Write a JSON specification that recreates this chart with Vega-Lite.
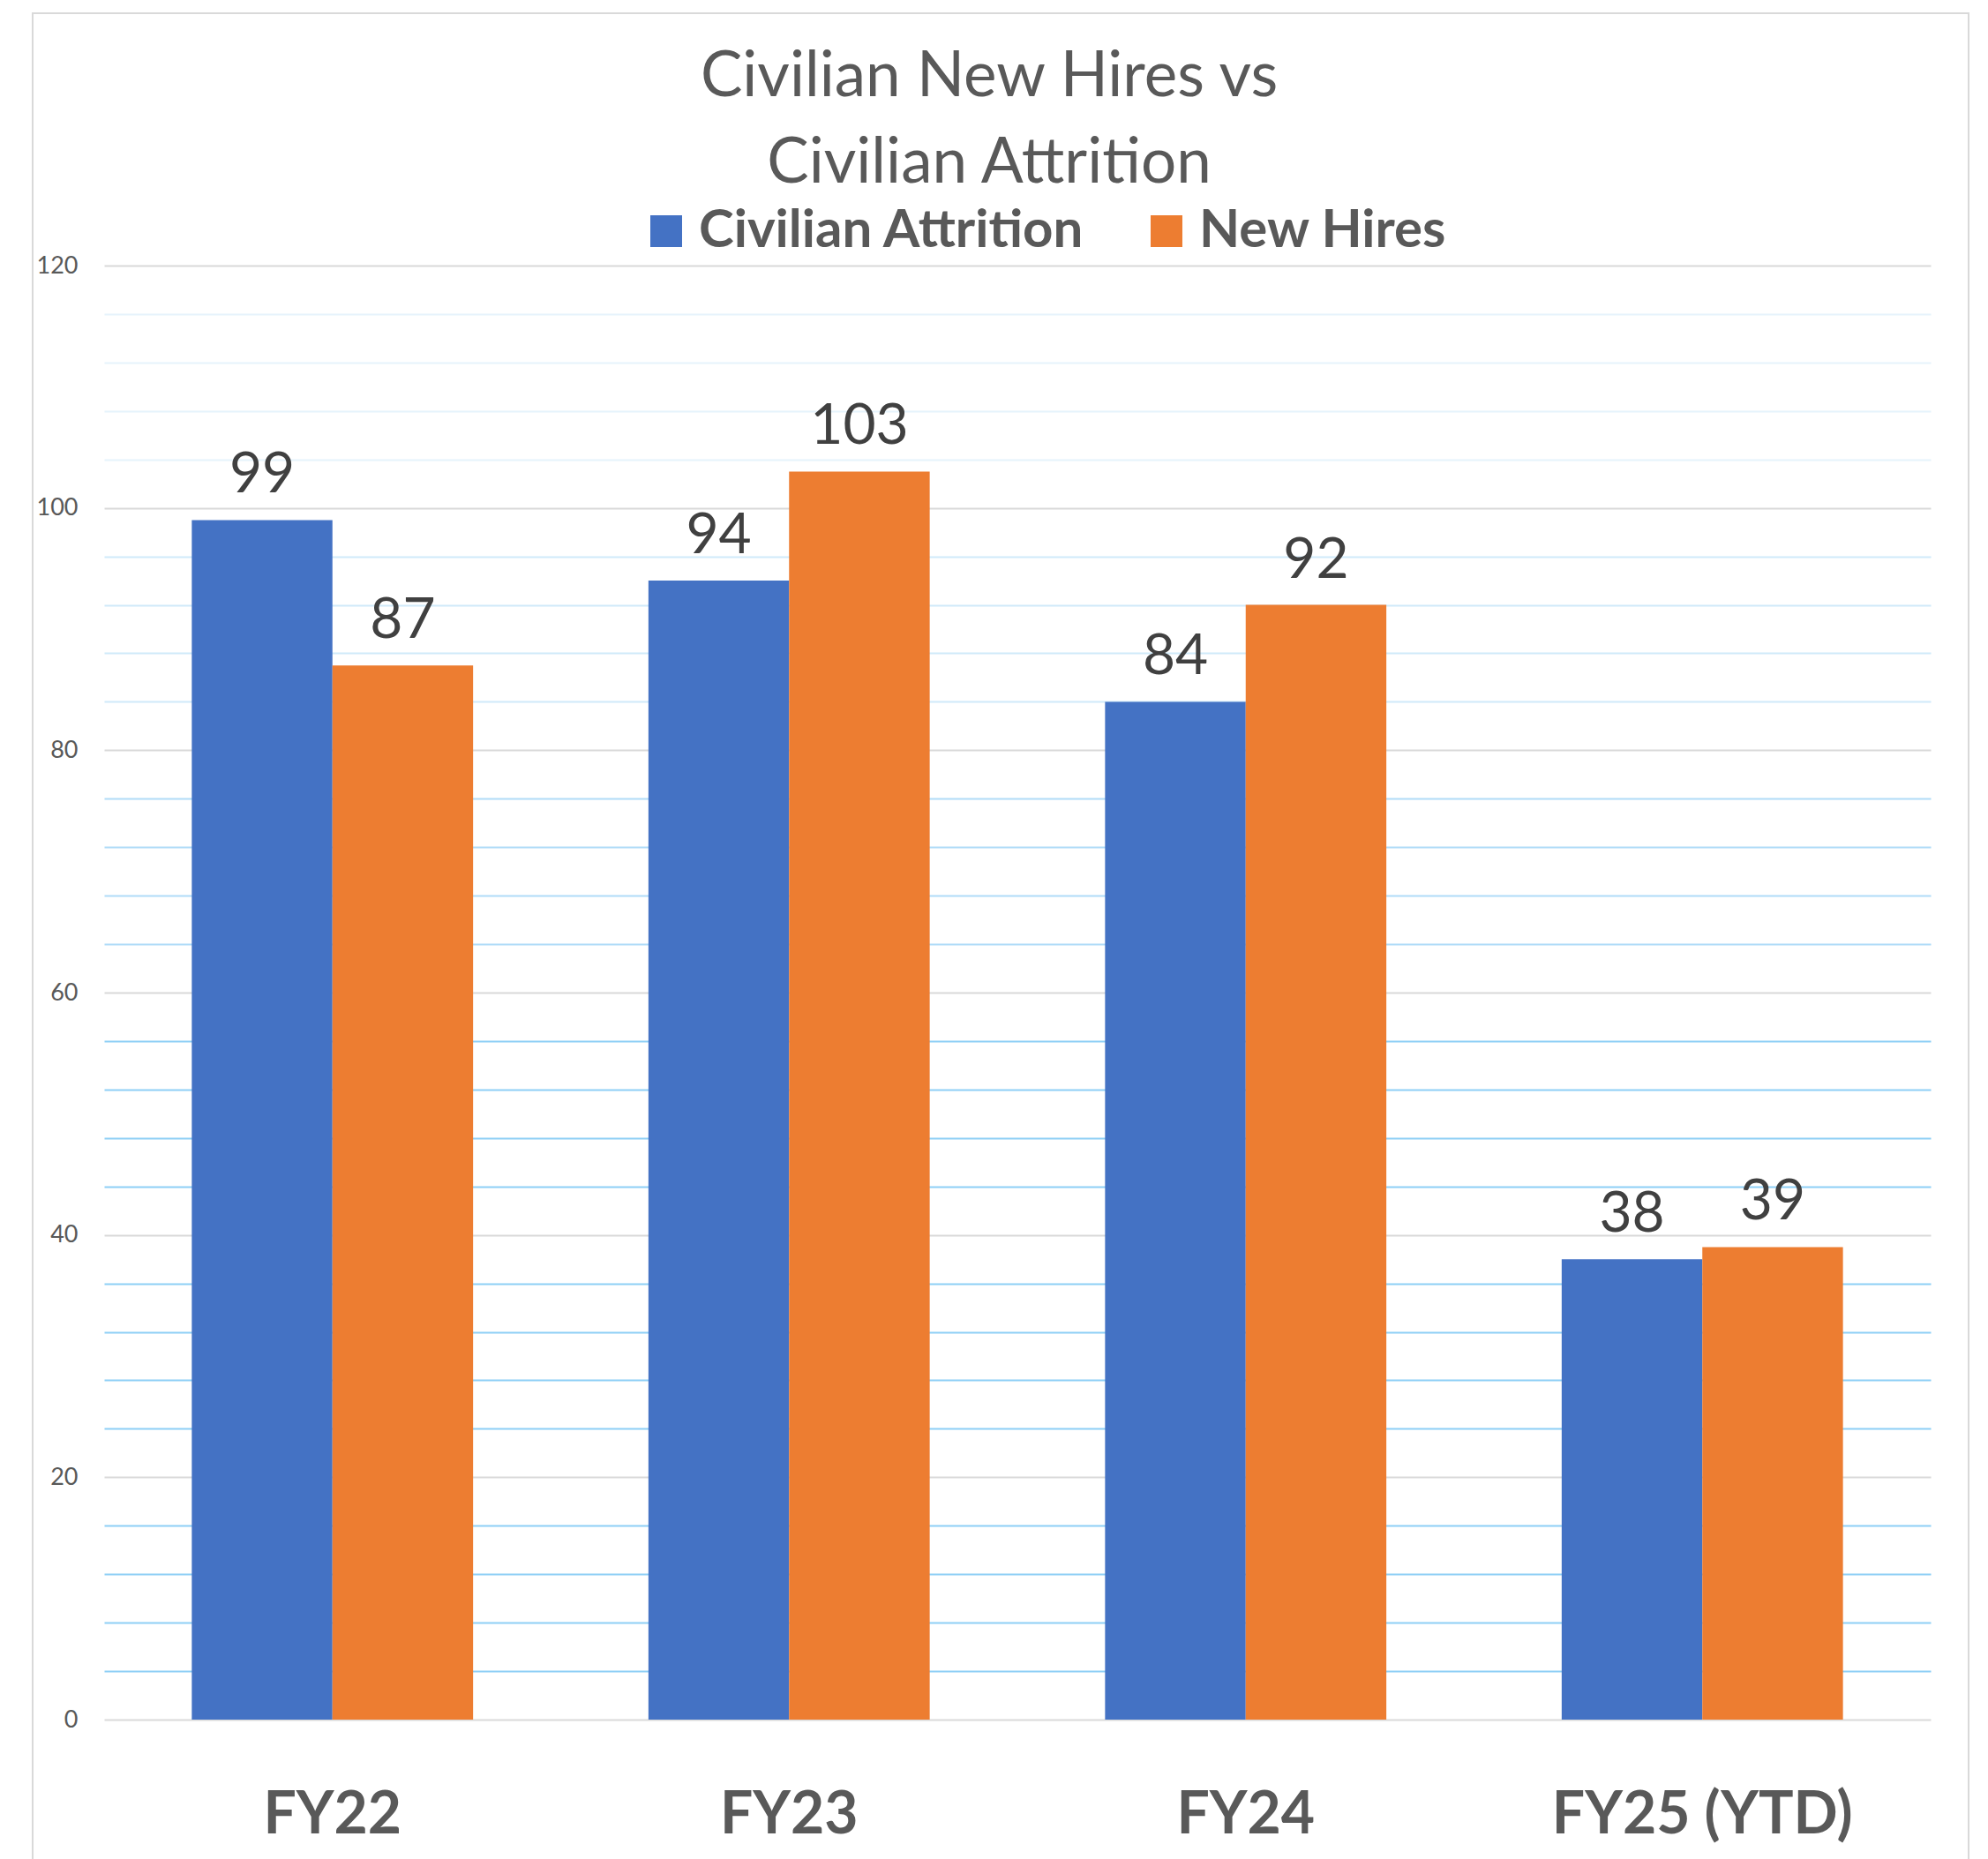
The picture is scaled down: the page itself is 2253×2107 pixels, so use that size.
{
  "$schema": "https://vega.github.io/schema/vega-lite/v6.json",
  "autosize": {"type": "none"},
  "padding": {"left": 37, "top": 15, "right": 22, "bottom": 0},
  "width": 2194,
  "height": 2110,
  "background": "white",
  "title": {
    "text": ["Civilian New Hires vs", "Civilian Attrition"],
    "font": "Lato",
    "fontSize": 71,
    "fontWeight": "normal",
    "color": "#595959",
    "lineHeight": 98,
    "anchor": "middle",
    "frame": "group",
    "baseline": "top",
    "offset": -207,
    "dx": -13
  },
  "data": {
    "values": [
      {"cat": "FY22", "series": "Civilian Attrition", "value": 99},
      {"cat": "FY22", "series": "New Hires", "value": 87},
      {"cat": "FY23", "series": "Civilian Attrition", "value": 94},
      {"cat": "FY23", "series": "New Hires", "value": 103},
      {"cat": "FY24", "series": "Civilian Attrition", "value": 84},
      {"cat": "FY24", "series": "New Hires", "value": 92},
      {"cat": "FY25 (YTD)", "series": "Civilian Attrition", "value": 38},
      {"cat": "FY25 (YTD)", "series": "New Hires", "value": 39}
    ]
  },
  "encoding": {
    "x": {
      "field": "cat",
      "type": "nominal",
      "sort": null,
      "title": null,
      "scale": {"range": [81, 2151], "paddingInner": 0.384, "paddingOuter": 0.192},
      "axis": {
        "orient": "bottom",
        "offset": -176,
        "domain": false,
        "ticks": false,
        "tickSize": 0,
        "grid": false,
        "labelAngle": 0,
        "labelFont": "Lato",
        "labelFontWeight": "bold",
        "labelFontSize": 66,
        "labelColor": "#595959",
        "labelBaseline": "alphabetic",
        "labelPadding": 128,
        "labelLimit": 1000
      }
    },
    "xOffset": {
      "field": "series",
      "type": "nominal",
      "sort": ["Civilian Attrition", "New Hires"],
      "scale": {"paddingInner": 0, "paddingOuter": 0}
    },
    "y": {
      "field": "value",
      "type": "quantitative",
      "title": null,
      "scale": {"domain": [0, 120], "range": [1934, 286], "nice": false, "zero": true},
      "axis": {
        "values": [0, 4, 8, 12, 16, 20, 24, 28, 32, 36, 40, 44, 48, 52, 56, 60, 64, 68, 72, 76, 80, 84, 88, 92, 96, 100, 104, 108, 112, 116, 120],
        "labelExpr": "datum.value % 20 === 0 ? datum.label : ''",
        "domain": false,
        "ticks": false,
        "tickSize": 0,
        "labelPadding": -51,
        "labelAlign": "right",
        "labelFont": "Lato",
        "labelFontSize": 27,
        "labelColor": "#595959",
        "labelOverlap": false,
        "grid": true,
        "gridWidth": 2,
        "gridColor": {
          "condition": [
            {"test": "datum.value % 20 === 0", "value": "#D9D9D9"},
            {"test": "datum.value >= 104", "value": "#E6F3FC"},
            {"test": "datum.value >= 84", "value": "#D0EAFA"},
            {"test": "datum.value >= 64", "value": "#B0DCF8"}
          ],
          "value": "#8ECFF6"
        }
      }
    }
  },
  "layer": [
    {
      "mark": {"type": "bar"},
      "encoding": {
        "color": {
          "field": "series",
          "type": "nominal",
          "scale": {"domain": ["Civilian Attrition", "New Hires"], "range": ["#4472C4", "#ED7D31"]},
          "legend": {
            "title": null,
            "orient": "none",
            "direction": "horizontal",
            "legendX": 688,
            "legendY": 217,
            "symbolType": "square",
            "symbolSize": 1296,
            "symbolStrokeWidth": 0,
            "labelFont": "Lato",
            "labelFontWeight": "bold",
            "labelFontSize": 60,
            "labelColor": "#595959",
            "labelOffset": 7,
            "columnPadding": 62,
            "labelLimit": 1000
          }
        }
      }
    },
    {
      "mark": {"type": "text", "baseline": "alphabetic", "dy": -31, "font": "Lato", "fontSize": 64, "color": "#404040"},
      "encoding": {
        "text": {"field": "value", "type": "quantitative"}
      }
    }
  ],
  "config": {
    "font": "Lato",
    "view": {"stroke": "#D9D9D9", "strokeWidth": 2}
  }
}
